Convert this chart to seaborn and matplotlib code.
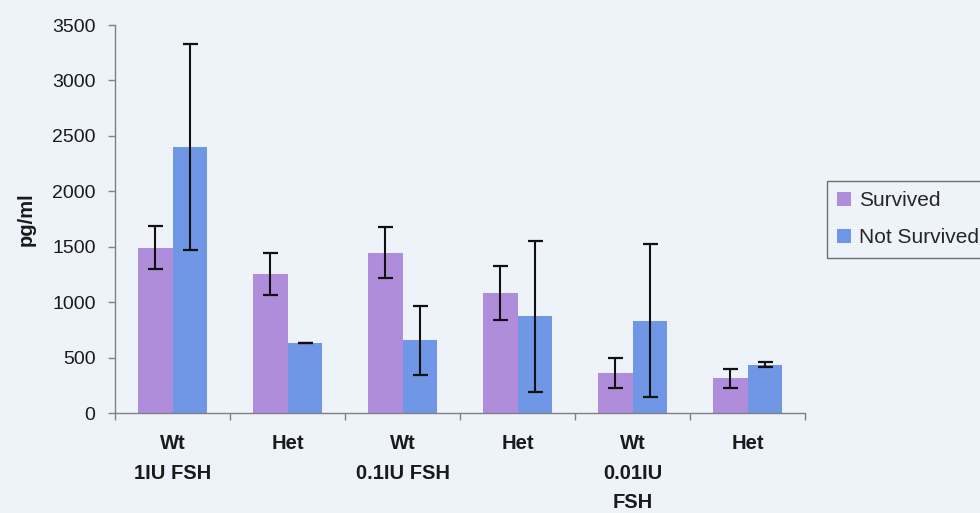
import matplotlib
matplotlib.use("Agg")
import matplotlib.pyplot as plt
import seaborn as sns
import pandas as pd
import numpy as np

# Groups and series
categories = ["Wt\n1IU FSH", "Het", "Wt\n0.1IU FSH", "Het", "Wt\n0.01IU\nFSH", "Het"]
series = ["Survived", "Not Survived"]
survived = [1490, 1250, 1445, 1085, 365, 312]
survived_err = [195, 190, 230, 245, 135, 85]
not_survived = [2400, 631, 655, 872, 833, 436]
not_survived_err = [930, 4, 310, 680, 690, 20]
yticks = [0, 500, 1000, 1500, 2000, 2500, 3000, 3500]

bg = "#EEF3FA"
colors = ["#B08DDB", "#6F97E5"]

sns.set_theme(style="white")
plt.rcParams["font.family"] = ["Liberation Sans", "DejaVu Sans"]

n = len(categories)
df = pd.DataFrame({
    "slot": list(range(n)) * 2,
    "series": [series[0]] * n + [series[1]] * n,
    "value": survived + not_survived,
})

fig = plt.figure(figsize=(9.8, 5.13), dpi=100, facecolor=bg)
ax = fig.add_axes([115 / 980, 100 / 513, 690 / 980, 388 / 513])
ax.set_facecolor(bg)

sns.barplot(data=df, x="slot", y="value", hue="series", order=list(range(n)),
            hue_order=series, palette=colors, width=0.6, errorbar=None,
            saturation=1, linewidth=0, ax=ax)

# Error bars centred on each drawn bar
for container, errs in zip(ax.containers, [survived_err, not_survived_err]):
    xs = [p.get_x() + p.get_width() / 2 for p in container.patches]
    hs = [p.get_height() for p in container.patches]
    ax.errorbar(xs, hs, yerr=errs, fmt="none", ecolor="#111111",
                elinewidth=1.5, capsize=5.4, capthick=1.6, zorder=5)

ax.set_ylim(0, 3500)
ax.set_xlim(-0.5, n - 0.5)
ax.set_yticks(yticks)
ax.set_yticklabels([str(t) for t in yticks], fontsize=14, color="#1a1a1a")

# Category labels at centres, tick marks at group boundaries
ax.set_xticks(range(n))
ax.set_xticklabels(categories, fontsize=14.5, fontweight="bold",
                   color="#1a1a1a", linespacing=1.72, va="top")
ax.set_xticks(np.arange(-0.5, n), minor=True)
ax.tick_params(axis="x", which="major", length=0, pad=15)
ax.tick_params(axis="x", which="minor", length=5, width=1, color="#808080",
               direction="out", bottom=True)
ax.tick_params(axis="y", length=5, width=1, color="#808080", direction="out",
               left=True, pad=9)

for side in ["top", "right"]:
    ax.spines[side].set_visible(False)
for side in ["left", "bottom"]:
    ax.spines[side].set_color("#808080")
    ax.spines[side].set_linewidth(1)

ax.set_xlabel("")
ax.set_ylabel("pg/ml", fontsize=14.5, fontweight="bold", color="#1a1a1a",
              labelpad=12)

handles, labels = ax.get_legend_handles_labels()
ax.legend(handles, labels, loc="upper left",
          bbox_to_anchor=(827 / 980, 1 - 181 / 513),
          bbox_transform=fig.transFigure, frameon=True, fancybox=False,
          edgecolor="#707070", facecolor=bg, framealpha=1, fontsize=15,
          handlelength=0.67, handleheight=0.67, handletextpad=0.38,
          borderpad=0.5, labelspacing=0.85, borderaxespad=0)

fig.savefig("out.png", dpi=100, facecolor=bg)
